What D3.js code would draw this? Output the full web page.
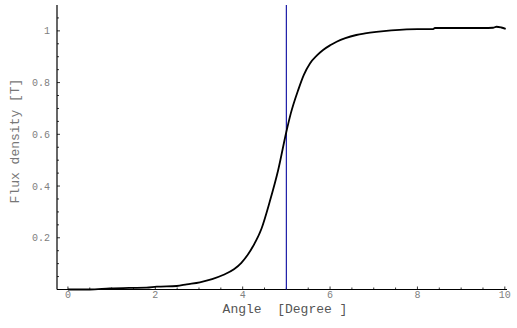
<!DOCTYPE html>
<html>
<head>
<meta charset="utf-8">
<script src="https://cdn.jsdelivr.net/npm/d3@7/dist/d3.min.js"></script>
<style>
  body { margin: 0; background: #fff; }
</style>
</head>
<body>
<div id="chart"></div>
<script>
// values
let angle = [0, 0.5, 0.96, 1.4, 1.8, 2.03, 2.49, 2.72, 3.02, 3.3, 3.55, 3.8, 3.97, 4.12, 4.24, 4.43,
             4.62, 4.81, 5.0, 5.1, 5.27, 5.4, 5.54, 5.7, 5.84, 6.0, 6.15, 6.35, 6.6, 6.8, 7.06,
             7.4, 7.75, 8.0, 8.36, 8.4, 9.0, 9.5, 9.73, 9.81, 9.92, 10.02];
let flux  = [0, 0, 0.004, 0.006, 0.007, 0.011, 0.0135, 0.02, 0.028, 0.04, 0.056, 0.078, 0.103, 0.135, 0.168, 0.235,
             0.34, 0.46, 0.61, 0.68, 0.771, 0.83, 0.874, 0.905, 0.926, 0.944, 0.958, 0.972, 0.984, 0.99, 0.996,
             1.002, 1.006, 1.007, 1.007, 1.011, 1.011, 1.011, 1.012, 1.016, 1.013, 1.008];
let markerAngle = 5;
let xTicks = [0, 2, 4, 6, 8, 10];
let yTicks = [0.2, 0.4, 0.6, 0.8, 1];

const W = 517, H = 328;
const m = {left: 57, right: 10, top: 5, bottom: 38.5};
const mono = "'Liberation Mono', 'DejaVu Sans Mono', monospace";

const svg = d3.select("#chart").append("svg")
    .attr("width", W).attr("height", H)
    .attr("font-family", mono);

const x = d3.scaleLinear().domain([-0.25, 10.05]).range([m.left, W - m.right]);
const y = d3.scaleLinear().domain([0, 1.1]).range([H - m.bottom, m.top]);

// minor ticks
const xMinor = d3.range(0, 10.01, 0.5);
const yMinor = d3.range(0.05, 1.1, 0.05);

svg.append("g").selectAll("line").data(xMinor).join("line")
    .attr("x1", d => x(d)).attr("x2", d => x(d))
    .attr("y1", y(0)).attr("y2", d => y(0) - (xTicks.includes(d) ? 3 : 2))
    .attr("stroke", "#000").attr("stroke-width", 0.8);

svg.append("g").selectAll("line").data(yMinor).join("line")
    .attr("x1", x(-0.25)).attr("x2", d => x(-0.25) + (yTicks.some(t => Math.abs(t - d) < 1e-6) ? 3 : 2))
    .attr("y1", d => y(d)).attr("y2", d => y(d))
    .attr("stroke", "#000").attr("stroke-width", 0.8);

// axis lines
svg.append("line")
    .attr("x1", x(-0.25)).attr("x2", x(10.05))
    .attr("y1", y(0)).attr("y2", y(0))
    .attr("stroke", "#000").attr("stroke-width", 1.2);
svg.append("line")
    .attr("x1", x(-0.25)).attr("x2", x(-0.25))
    .attr("y1", y(0)).attr("y2", y(1.1))
    .attr("stroke", "#000").attr("stroke-width", 1.2);

// tick labels
svg.append("g").selectAll("text").data(xTicks).join("text")
    .attr("x", d => x(d)).attr("y", y(0) + 8.5)
    .attr("text-anchor", "middle")
    .attr("font-size", 10).attr("fill", "#808080")
    .text(d => d);

svg.append("g").selectAll("text").data(yTicks).join("text")
    .attr("x", x(-0.25) - 7).attr("y", d => y(d) + 3.5)
    .attr("text-anchor", "end")
    .attr("font-size", 10).attr("fill", "#808080")
    .text(d => d);

// axis titles
svg.append("text")
    .attr("x", 285).attr("y", 313)
    .attr("text-anchor", "middle")
    .attr("font-size", 13).attr("fill", "#555")
    .attr("xml:space", "preserve")
    .style("white-space", "pre")
    .text("Angle  [Degree ]");

svg.append("text")
    .attr("transform", "translate(19," + 141 + ") rotate(-90)")
    .attr("text-anchor", "middle")
    .attr("font-size", 13).attr("fill", "#777")
    .text("Flux density [T]");

// marker line
svg.append("line")
    .attr("x1", x(markerAngle)).attr("x2", x(markerAngle))
    .attr("y1", y(0)).attr("y2", y(1.1))
    .attr("stroke", "#1c1ca8").attr("stroke-width", 1.2);

// curve
const line = d3.line()
    .x((d, i) => x(angle[i]))
    .y(d => y(d))
    .curve(d3.curveMonotoneX);

svg.append("path")
    .datum(flux)
    .attr("d", line)
    .attr("fill", "none")
    .attr("stroke", "#000")
    .attr("stroke-width", 1.8);
</script>
</body>
</html>
